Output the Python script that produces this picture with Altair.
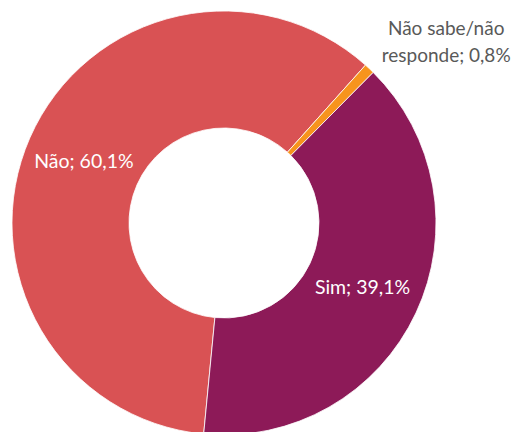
import math
import altair as alt
import pandas as pd

categories = ["Não", "Não sabe/não responde", "Sim"]
values = [60.1, 0.8, 39.1]
inner_labels = ["Não; 60,1%", "", "Sim; 39,1%"]
outer_labels = ["", "Não sabe/não\nresponde; 0,8%", ""]
colors = ["#D95254", "#F7941D", "#8D1A58"]
order = [0, 1, 2]

df = pd.DataFrame({
    "cat": categories,
    "val": values,
    "inner": inner_labels,
    "outer": outer_labels,
    "ord": order,
})

start = math.radians(185.5)
theta_scale = alt.Scale(domain=[0, 100], range=[start, start + 2 * math.pi])
theta = alt.Theta("val:Q", stack=True, scale=theta_scale)
ordr = alt.Order("ord:Q")

base = alt.Chart(df)

arcs = base.mark_arc(innerRadius=95, outerRadius=212, stroke="white", strokeWidth=0.8).encode(
    theta=theta,
    order=ordr,
    color=alt.Color("cat:N", scale=alt.Scale(domain=categories, range=colors), legend=None),
)

inner = base.mark_text(font="Lato", fontSize=19.5, color="white", baseline="middle", align="center").encode(
    theta=theta,
    order=ordr,
    radius=alt.value(153),
    text="inner:N",
)

outer = base.mark_text(font="Lato", fontSize=19, color="#595959", baseline="middle", align="center",
                       lineBreak="\n", lineHeight=27, dx=37, dy=2).encode(
    theta=theta,
    order=ordr,
    radius=alt.value(270),
    text="outer:N",
)

chart = alt.layer(arcs, inner, outer).properties(
    width=432, height=430, padding=0
).configure_view(stroke=None)

chart.save("out.html", embed_options={"renderer": "svg", "actions": False})
